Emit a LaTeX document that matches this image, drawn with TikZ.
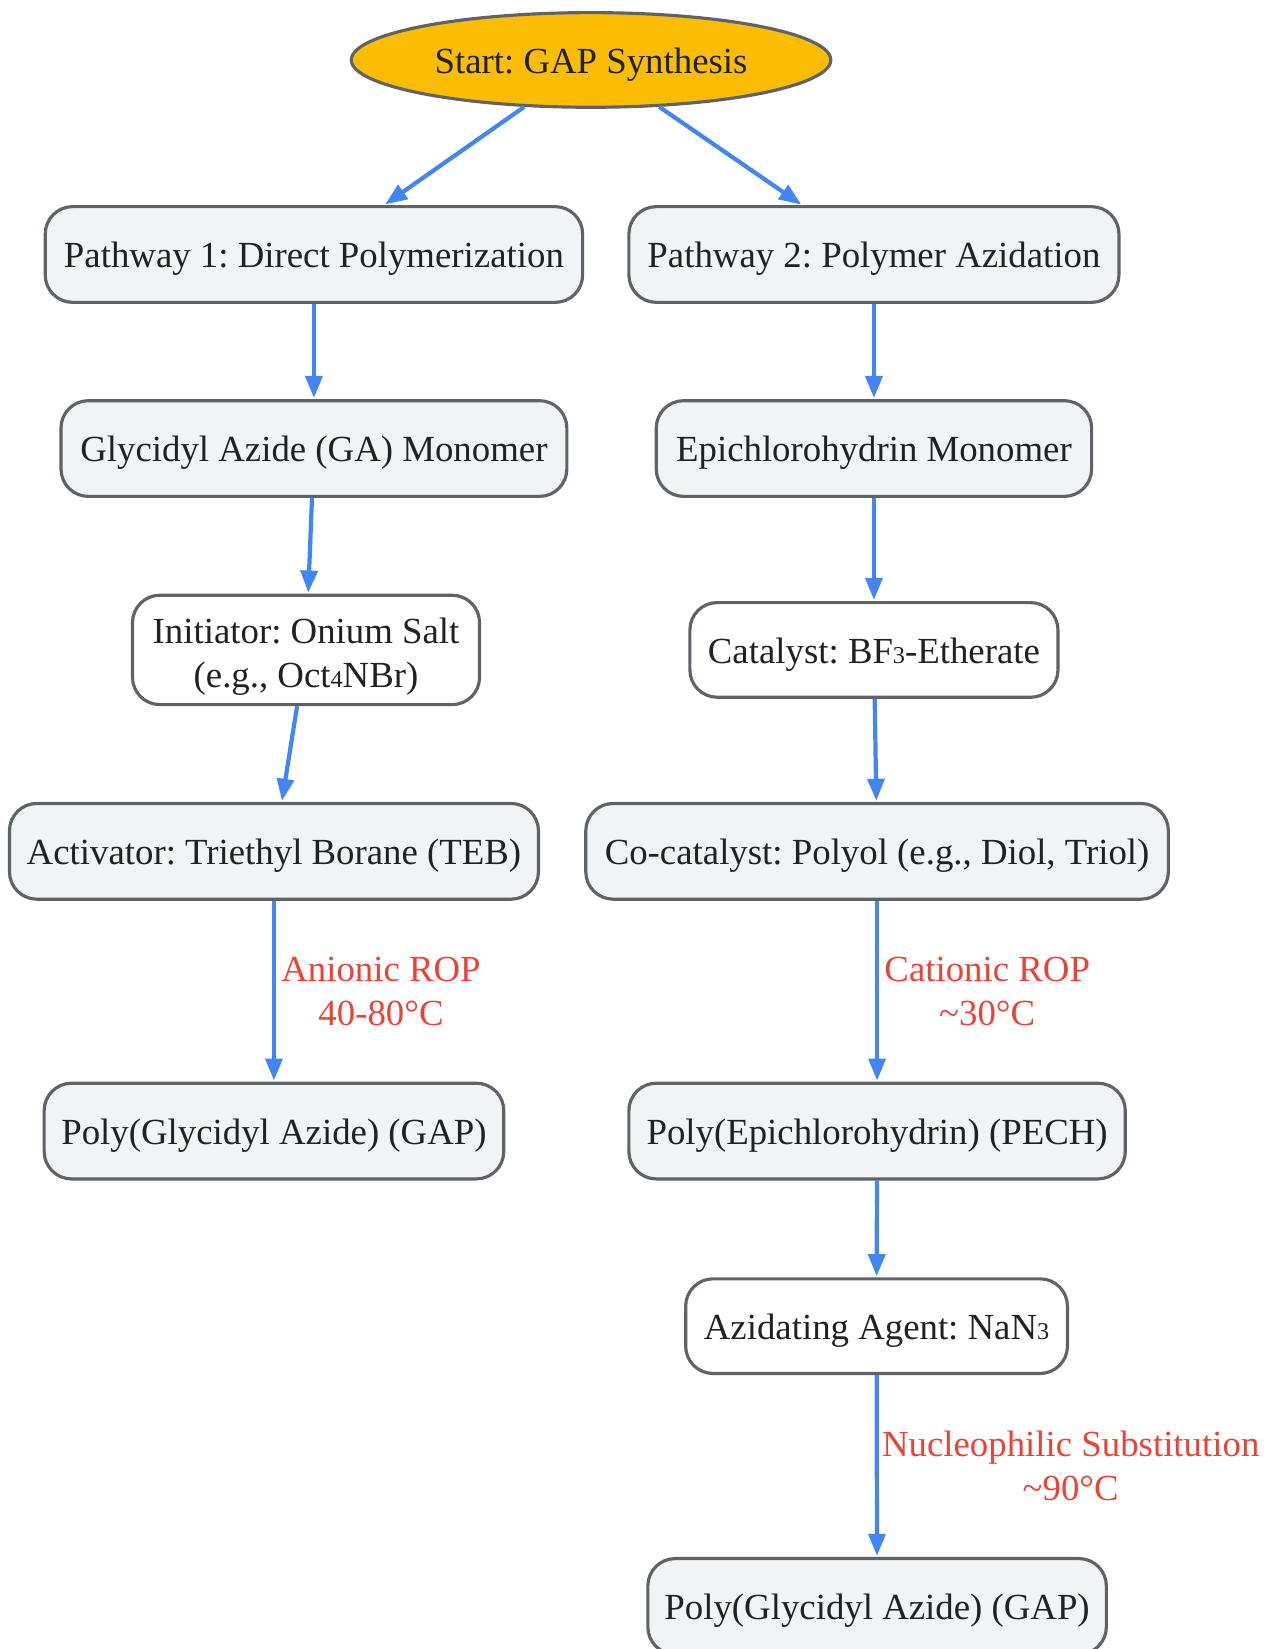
\documentclass[tikz,border=0pt]{standalone}
\usepackage{fontspec}
\setmainfont{Liberation Serif}
\usetikzlibrary{shapes.geometric,arrows.meta}
\definecolor{gblue}{HTML}{4285F4}
\definecolor{gred}{HTML}{EA4335}
\definecolor{gyellow}{HTML}{FBBC04}
\definecolor{ggray}{HTML}{5F6368}
\definecolor{glight}{HTML}{F1F3F4}
\definecolor{gtext}{HTML}{202124}
\frenchspacing
\newcommand{\smalldigit}[1]{{\fontsize{23}{23}\selectfont #1}}
\tikzset{
  basebox/.style={draw=ggray, line width=3pt, rounded corners=26pt, fill=glight,
    inner sep=0pt, minimum height=91pt, text=gtext, align=center,
    font=\fontsize{35}{42}\selectfont},
  box/.style={basebox, execute at begin node={\rule{0pt}{32.5pt}}},
  wbox/.style={box, fill=white},
  startnode/.style={ellipse, draw=ggray, line width=3pt, fill=gyellow,
    inner sep=0pt, minimum width=456pt, minimum height=90pt, text=gtext,
    execute at begin node={\rule{0pt}{32.5pt}},
    font=\fontsize{35}{42}\selectfont},
  arr/.style={draw=gblue, line width=4pt,
    -{Triangle[length=21pt,width=16pt]}, shorten >=1pt},
  lbl/.style={text=gred, align=center, inner sep=5pt,
    font=\fontsize{35}{42}\selectfont}
}
\begin{document}
\begin{tikzpicture}[x=1pt,y=-1pt]
\useasboundingbox (0,0) rectangle (1206,1568);
\node[startnode] (start) at (562,57) {Start: GAP Synthesis};
\node[box, minimum width=511pt] (p1) at (298.5,242) {Pathway 1: Direct Polymerization};
\node[box, minimum width=466pt] (p2) at (831,242) {Pathway 2: Polymer Azidation};
\node[box, minimum width=481pt] (ga) at (298.5,426.5) {Glycidyl Azide (GA) Monomer};
\node[box, minimum width=414pt] (epi) at (831,426.5) {Epichlorohydrin Monomer};
\node[basebox, fill=white, minimum width=330pt, minimum height=104pt] (ini) at (291,618) {\rule{0pt}{37pt}Initiator: Onium Salt\\(e.g., Oct\smalldigit{4}NBr)};
\node[wbox, minimum width=350pt, minimum height=90pt] (cat) at (831,618) {Catalyst: BF\smalldigit{3}-Etherate};
\node[box, minimum width=503pt] (act) at (260.5,809.5) {Activator: Triethyl Borane (TEB)};
\node[box, minimum width=554pt] (cocat) at (834,809.5) {Co-catalyst: Polyol (e.g., Diol, Triol)};
\node[box, minimum width=437pt] (gap1) at (260.5,1075.5) {Poly(Glycidyl Azide) (GAP)};
\node[box, minimum width=472pt] (pech) at (834,1075.5) {Poly(Epichlorohydrin) (PECH)};
\node[wbox, minimum width=363pt, minimum height=90pt] (azi) at (833.5,1261) {Azidating Agent: NaN\smalldigit{3}};
\node[box, minimum width=436pt] (gap2) at (834,1527.5) {Poly(Glycidyl Azide) (GAP)};

\draw[arr] (start) -- (p1);
\draw[arr] (start) -- (p2);
\draw[arr] (p1) -- (ga);
\draw[arr] (ga) -- (ini);
\draw[arr] (ini) -- (act);
\draw[arr] (act) -- node[lbl, right] {Anionic ROP\\40-80°C} (gap1);
\draw[arr] (p2) -- (epi);
\draw[arr] (epi) -- (cat);
\draw[arr] (cat) -- (cocat);
\draw[arr] (cocat) -- node[lbl, right] {Cationic ROP\\\textasciitilde30°C} (pech);
\draw[arr] (pech) -- (azi);
\draw[arr] (azi) -- node[lbl, right, inner sep=3pt] {Nucleophilic Substitution\\\textasciitilde90°C} (gap2);
\end{tikzpicture}
\end{document}
